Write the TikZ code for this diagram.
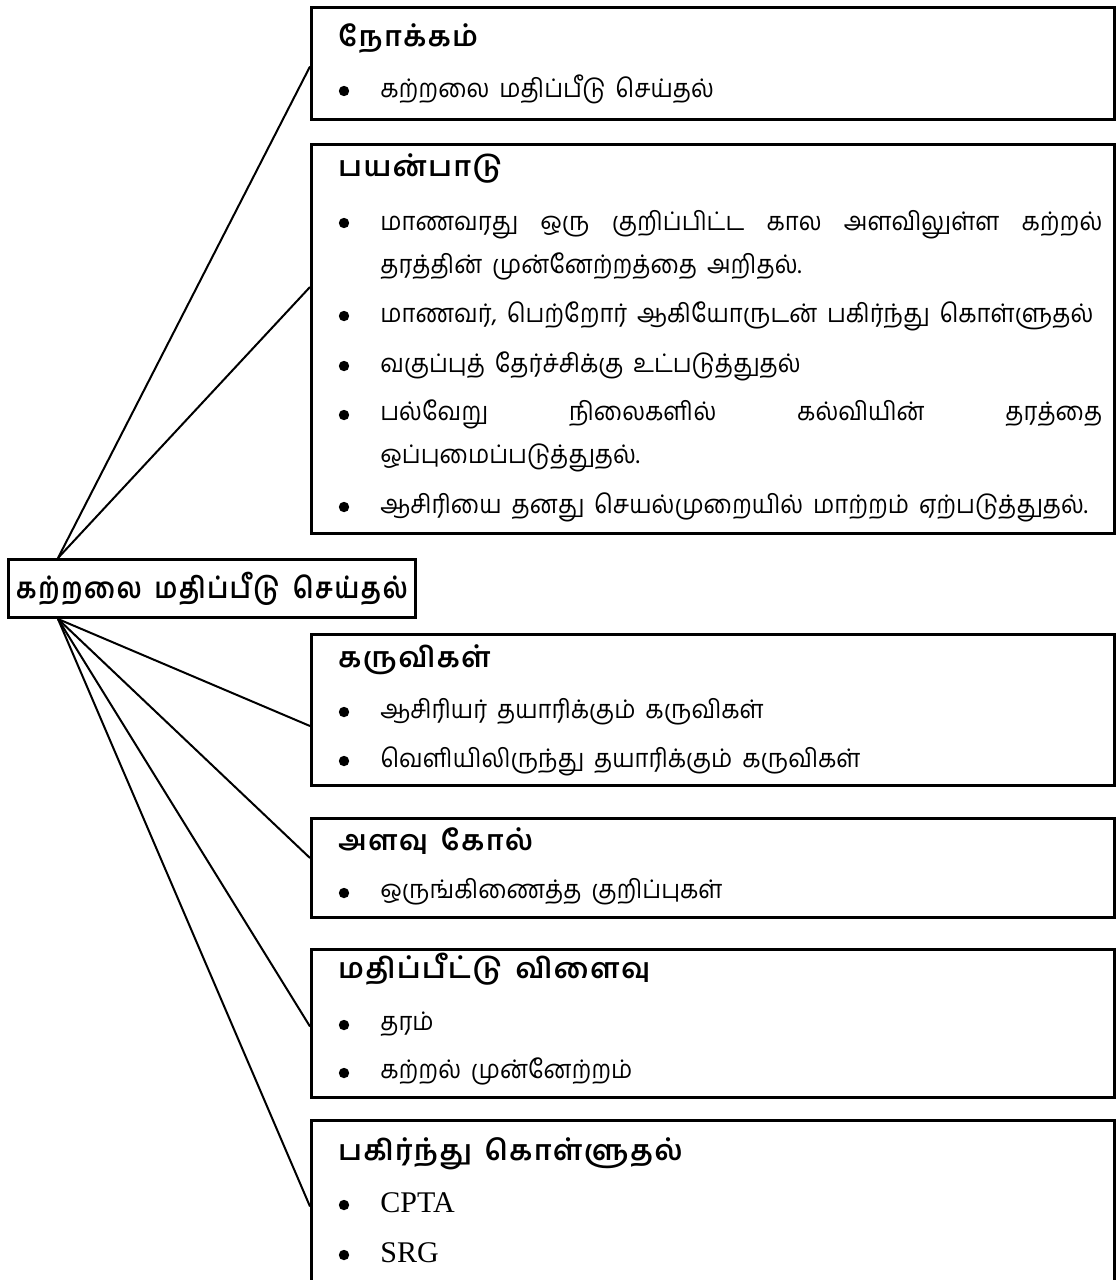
\documentclass[tikz,border=0pt]{standalone}
\usepackage{fontspec}
\setmainfont{Liberation Serif}
\newfontfamily\tamil[Script=Tamil,WordSpace=1.7,FakeStretch=0.93]{Hind Madurai}
\newfontfamily\tamilsp[Script=Tamil,LetterSpace=6,WordSpace=1.5]{Hind Madurai}
\newfontfamily\tamilroot[Script=Tamil,LetterSpace=6,WordSpace=1.6,FakeStretch=0.86]{Hind Madurai}
\tikzset{
  frame/.style={draw, line width=1.5pt, anchor=north west, minimum width=401.5pt, inner sep=0pt},
  head/.style={anchor=base west, inner sep=0pt, font=\tamilsp\bfseries\fontsize{14}{17}\selectfont},
  entry/.style={anchor=base west, inner sep=0pt, font=\tamil\fontsize{12.8}{21.5}\selectfont},
  wrapped/.style={entry, text width=361pt, align=justify},
  latin/.style={entry, font=\rmfamily\fontsize{15}{18}\selectfont},
  link/.style={line width=1pt},
}
\begin{document}
\begin{tikzpicture}[x=0.5pt,y=-0.5pt]
  \useasboundingbox (0,0) rectangle (1116,1280);
  \clip (0,0) rectangle (1116,1280);

  % centre
  \node[draw, line width=1.5pt, anchor=north west, minimum width=203.5pt, minimum height=29pt, inner sep=0pt,
        font=\tamilroot\bfseries\fontsize{14.5}{18}\selectfont] (root) at (7,558) {கற்றலை மதிப்பீடு செய்தல்};
  \coordinate (up) at ([xshift=25.5pt]root.north west);
  \coordinate (dn) at ([xshift=25.5pt]root.south west);

  % frames
  \node[frame, minimum height=56pt] (aim) at (310,6) {};
  \node[frame, minimum height=194.5pt] (usage) at (310,143) {};
  \node[frame, minimum height=75.5pt] (tools) at (310,633) {};
  \node[frame, minimum height=49.5pt] (rubric) at (310,817) {};
  \node[frame, minimum height=74pt] (result) at (310,948) {};
  \node[frame, minimum height=90pt] (share) at (310,1119) {};

  % aim
  \node[head] (aimh) at (338,46) {நோக்கம்};
  \fill (344,91) circle (2.6pt);
  \node[entry] (aim1) at (380,97) {கற்றலை மதிப்பீடு செய்தல்};

  % usage
  \node[head] (useh) at (338,176) {பயன்பாடு};
  \fill (344,223) circle (2.6pt);
  \node[wrapped] (use1) at (380,230) {மாணவரது ஒரு குறிப்பிட்ட கால அளவிலுள்ள கற்றல்\linebreak தரத்தின் முன்னேற்றத்தை அறிதல்.};
  \fill (344,316) circle (2.6pt);
  \node[entry] (use2) at (380,322) {மாணவர், பெற்றோர் ஆகியோருடன் பகிர்ந்து கொள்ளுதல்};
  \fill (344,366) circle (2.6pt);
  \node[entry] (use3) at (380,372) {வகுப்புத் தேர்ச்சிக்கு உட்படுத்துதல்};
  \fill (344,415) circle (2.6pt);
  \node[wrapped] (use4) at (380,420) {பல்வேறு நிலைகளில் கல்வியின் தரத்தை\linebreak ஒப்புமைப்படுத்துதல்.};
  \fill (344,507) circle (2.6pt);
  \node[entry] (use5) at (380,513) {ஆசிரியை தனது செயல்முறையில் மாற்றம் ஏற்படுத்துதல்.};

  % tools
  \node[head] (toolh) at (338,667) {கருவிகள்};
  \fill (344,712) circle (2.6pt);
  \node[entry] (tool1) at (380,718) {ஆசிரியர் தயாரிக்கும் கருவிகள்};
  \fill (344,761) circle (2.6pt);
  \node[entry] (tool2) at (380,767) {வெளியிலிருந்து தயாரிக்கும் கருவிகள்};

  % rubric
  \node[head] (rubh) at (338,850) {அளவு கோல்};
  \fill (344,893) circle (2.6pt);
  \node[entry] (rub1) at (380,898) {ஒருங்கிணைத்த குறிப்புகள்};

  % result
  \node[head] (resh) at (338,978) {மதிப்பீட்டு விளைவு};
  \fill (344,1025) circle (2.6pt);
  \node[entry] (res1) at (380,1030) {தரம்};
  \fill (344,1073) circle (2.6pt);
  \node[entry] (res2) at (380,1078) {கற்றல் முன்னேற்றம்};

  % share
  \node[head] (shh) at (338,1160) {பகிர்ந்து கொள்ளுதல்};
  \fill (344,1205) circle (2.6pt);
  \node[latin] (sh1) at (380,1212) {CPTA};
  \fill (344,1255) circle (2.6pt);
  \node[latin] (sh2) at (380,1262) {SRG};

  % links
  \draw[link] (up) -- ([yshift=-1.5pt]aim.west);
  \draw[link] (up) -- ([yshift=26pt]usage.west);
  \draw[link] (dn) -- ([yshift=-8pt]tools.west);
  \draw[link] (dn) -- ([yshift=5pt]rubric.west);
  \draw[link] (dn) -- ([yshift=-1.5pt]result.west);
  \draw[link] (dn) -- ([yshift=2pt]share.west);
\end{tikzpicture}
\end{document}
